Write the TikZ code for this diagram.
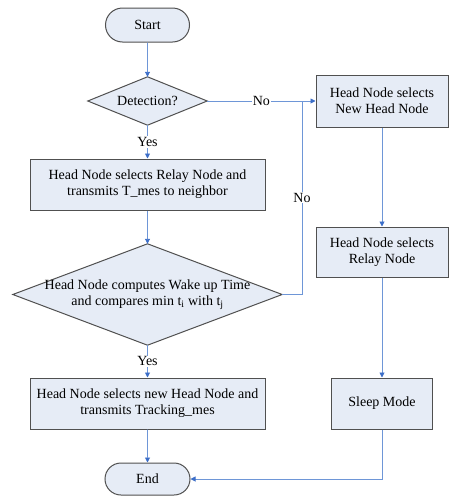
\documentclass[tikz,border=0pt]{standalone}
\usepackage{fontspec}
\setmainfont{Liberation Serif}
\usetikzlibrary{shapes.misc,arrows.meta}
\pgfdeclarelayer{background}
\pgfsetlayers{background,main}

\definecolor{boxfill}{RGB}{230,236,246}
\definecolor{boxedge}{RGB}{80,80,80}
\definecolor{flow}{RGB}{110,150,215}
\definecolor{tipblue}{RGB}{60,110,200}

\begin{document}
\begin{tikzpicture}[x=1pt,y=-1pt,
  font=\fontsize{14}{16}\selectfont,
  box/.style={rectangle,draw=boxedge,fill=boxfill,line width=1pt,inner sep=0pt,align=center},
  term/.style={rounded rectangle,draw=boxedge,fill=boxfill,line width=1pt,inner sep=0pt},
  decision/.style={rectangle,inner sep=0pt,align=center},
  flowline/.style={draw=flow,line width=0.9pt},
  arr/.style={flowline,-{Triangle[length=5pt,width=5pt,color=tipblue]}},
  tag/.style={fill=white,inner sep=1pt}]
\useasboundingbox (0,0) rectangle (449,496);

% left column
\node[term,minimum width=84pt,minimum height=34pt] (start) at (147.5,25) {Start};
\node[decision,minimum width=119pt,minimum height=48pt] (det) at (147.5,101) {Detection?};
\node[box,minimum width=235pt,minimum height=51pt] (relay) at (147.5,184.5)
  {Head Node selects Relay Node and\\transmits T\_mes to neighbor};
\node[decision,minimum width=269pt,minimum height=101pt] (wake) at (147.5,294.5)
  {Head Node computes Wake up Time\\and compares min t\textsubscript{i} with t\textsubscript{j}};
\node[box,minimum width=235pt,minimum height=51pt] (track) at (147.5,403.5)
  {Head Node selects new Head Node and\\transmits Tracking\_mes};
\node[term,minimum width=85pt,minimum height=32pt] (end) at (147.5,479) {End};

% right column
\node[box,minimum width=132pt,minimum height=52pt] (newhead) at (382,101)
  {Head Node selects\\New Head Node};
\node[box,minimum width=132pt,minimum height=50pt] (relay2) at (382,252)
  {Head Node selects\\Relay Node};
\node[box,minimum width=101pt,minimum height=51pt] (sleep) at (382,403.5) {Sleep Mode};

\coordinate (join) at (302,101);

% decision outlines drawn behind their texts
\begin{pgfonlayer}{background}
\foreach \d in {det,wake}
  \draw[fill=boxfill,draw=boxedge,line width=1pt]
    (\d.north) -- (\d.east) -- (\d.south) -- (\d.west) -- cycle;
\end{pgfonlayer}

% connectors
\draw[arr] (start) -- (det);
\draw[arr] (det.south) -- node[tag]{Yes} (relay.north);
\draw[arr] (relay) -- (wake);
\draw[arr] (wake.south) -- node[tag]{Yes} (track.north);
\draw[arr] (track) -- (end);
\draw[arr] (det.east) -- node[tag]{No} (newhead.west);
\draw[flowline] (wake.east) -| node[tag,pos=0.75]{No} (join);
\draw[arr] (newhead) -- (relay2);
\draw[arr] (relay2) -- (sleep);
\draw[arr] (sleep.south) |- (end.east);
\end{tikzpicture}
\end{document}
